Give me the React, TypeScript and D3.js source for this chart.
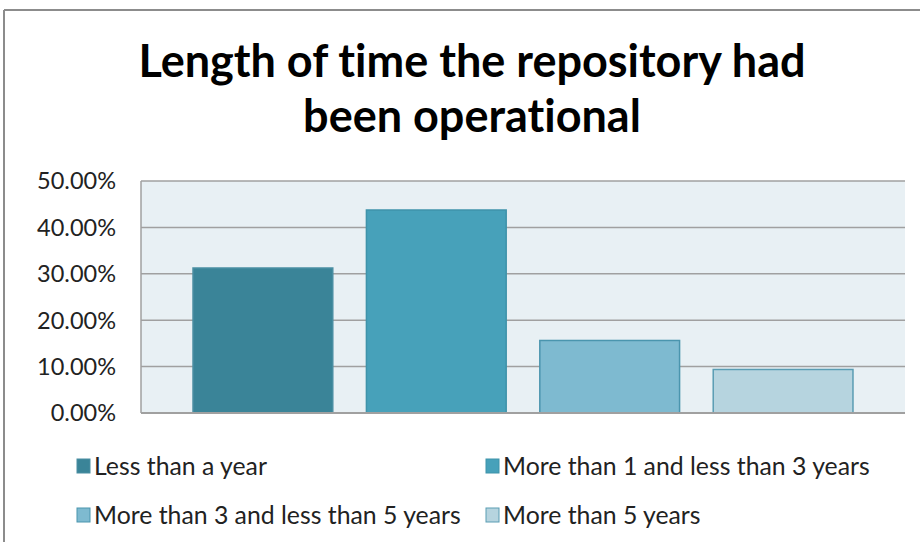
import React from "react";
import * as d3 from "d3";

const title = ["Length of time the repository had", "been operational"];
const categories = [
  "Less than a year",
  "More than 1 and less than 3 years",
  "More than 3 and less than 5 years",
  "More than 5 years",
];
const values = [0.3125, 0.4375, 0.1563, 0.0938];
const colors = ["#3A8498", "#47A1BA", "#7EBAD0", "#B6D4DF"];
const strokes = ["#4A8EA2", "#3F93AA", "#4A95AE", "#5A9DB3"];
const yTicks = [0, 0.1, 0.2, 0.3, 0.4, 0.5];

const W = 920;
const H = 542;
const plot = { left: 141, top: 181, right: 905, bottom: 413 };

export default function App() {
  const y = d3.scaleLinear().domain([0, 0.5]).range([plot.bottom, plot.top]);
  const x = d3
    .scaleBand<number>()
    .domain(d3.range(categories.length))
    .range([plot.left, plot.right])
    .paddingInner(0.194)
    .paddingOuter(0.3);
  const fmt = d3.format(".2%");
  const font = "Lato, 'Open Sans', sans-serif";

  const legendPos = [
    { x: 77, y: 466 },
    { x: 486, y: 466 },
    { x: 77, y: 515 },
    { x: 486, y: 515 },
  ];

  return (
    <svg
      width={W}
      height={H}
      style={{ position: "absolute", left: 0, top: 0, background: "#fff", fontVariantLigatures: "none" }}
      fontFamily={font}
    >
      <rect x={0} y={0} width={W} height={H} fill="#fff" />
      {/* outer chart border */}
      <line x1={4} y1={10} x2={W} y2={10} stroke="#8C8C8C" strokeWidth={2} />
      <line x1={4} y1={10} x2={4} y2={H} stroke="#8C8C8C" strokeWidth={2} />

      {/* title */}
      {title.map((t, i) => (
        <text
          key={i}
          x={472}
          y={77 + i * 55}
          textAnchor="middle"
          fontSize={45}
          fontWeight={700}
          fill="#000"
        >
          {t}
        </text>
      ))}

      {/* plot area */}
      <rect
        x={plot.left}
        y={plot.top}
        width={plot.right - plot.left}
        height={plot.bottom - plot.top}
        fill="#E8F0F4"
      />
      {yTicks.map((t) => (
        <line
          key={t}
          x1={plot.left}
          x2={plot.right}
          y1={y(t)}
          y2={y(t)}
          stroke="#A0A0A0"
          strokeWidth={1.5}
        />
      ))}
      <line
        x1={plot.left}
        x2={plot.left}
        y1={plot.top}
        y2={plot.bottom}
        stroke="#A0A0A0"
        strokeWidth={1.5}
      />

      {/* bars */}
      {values.map((v, i) => (
        <rect
          key={i}
          x={x(i)!}
          y={y(v)}
          width={x.bandwidth()}
          height={plot.bottom - y(v)}
          fill={colors[i]}
          stroke={strokes[i]}
          strokeWidth={1.5}
        />
      ))}
      <line
        x1={plot.left}
        x2={plot.right}
        y1={plot.bottom}
        y2={plot.bottom}
        stroke="#A0A0A0"
        strokeWidth={2}
      />

      {/* y tick labels */}
      {yTicks.map((t) => (
        <text
          key={t}
          x={116}
          y={y(t)}
          dy="0.36em"
          textAnchor="end"
          fontSize={23.5}
          fill="#222"
        >
          {fmt(t)}
        </text>
      ))}

      {/* legend */}
      {categories.map((c, i) => (
        <g key={c} transform={`translate(${legendPos[i].x},${legendPos[i].y})`}>
          <rect x={0} y={-7} width={13} height={14} fill={colors[i]} stroke={strokes[i]} strokeWidth={1} />
          <text x={17} y={0} dy="0.36em" fontSize={24.8} fill="#222">
            {c}
          </text>
        </g>
      ))}
    </svg>
  );
}
